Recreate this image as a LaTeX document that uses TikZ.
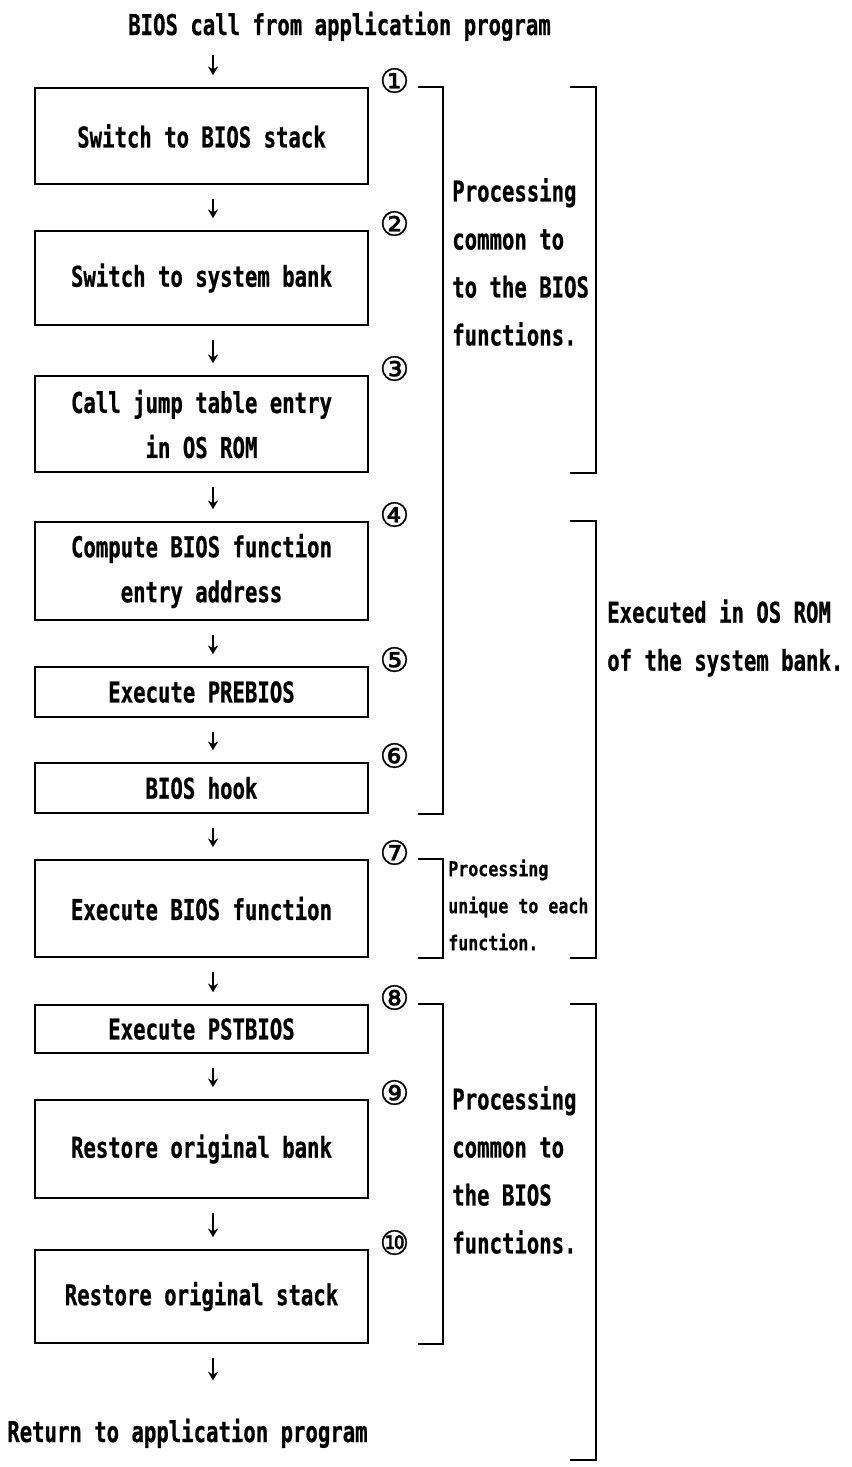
\documentclass[tikz,border=0pt]{standalone}
\usepackage{fontspec}
\usetikzlibrary{arrows.meta}
\newfontfamily\mainfnt[FakeStretch=0.72,FakeBold=0.6]{DejaVu Sans Mono Bold}
\newfontfamily\smallfnt[FakeStretch=0.81,FakeBold=0.4]{DejaVu Sans Mono Bold}
\newfontfamily\numfnt[FakeBold=0.8]{DejaVu Sans}
\begin{document}
\begin{tikzpicture}[x=0.75pt,y=-0.75pt,
  txt/.style={inner sep=0pt, font=\mainfnt\fontsize{21.5}{33.75}\selectfont},
  box/.style={draw, line width=2.2pt, minimum width=249.75pt, inner sep=0pt, align=center,
    font=\mainfnt\fontsize{21.5}{33.75}\selectfont},
  bxh/.style={minimum height=#1*0.75pt},
  lbl/.style={inner sep=0pt, align=left, anchor=west, font=\mainfnt\fontsize{21.5}{36}\selectfont},
  lblb/.style={inner sep=0pt, align=left, anchor=west, font=\mainfnt\fontsize{21.5}{36}\selectfont},
  lbls/.style={inner sep=0pt, align=left, anchor=west, font=\smallfnt\fontsize{15.4}{27.75}\selectfont},
  num/.style={inner sep=0pt, font=\numfnt\fontsize{25}{25}\selectfont},
  flow/.style={line width=1.5pt, -{Stealth[length=6.5pt,width=7.5pt]}, shorten <=10pt, shorten >=8.5pt},
  brk/.style={line width=1.5pt}]
\fill[white] (0,0) rectangle (852,1467);
\useasboundingbox (0,0) rectangle (852,1467);

\coordinate (ax) at (213,0);
\coordinate (xl1) at (418,0);
\coordinate (xl2) at (443,0);
\coordinate (xr1) at (570,0);
\coordinate (xr2) at (596,0);
\coordinate (fend) at (570,1460);

\node[txt, anchor=base west] (title) at (128,35) {BIOS call from application program};

\node[box,bxh=96] (b1) at (201.5,136) {Switch to BIOS stack};
\node[box,bxh=94] (b2) at (201.5,278) {Switch to system bank};
\node[box,bxh=96] (b3) at (201.5,424) {Call jump table entry\\in OS ROM};
\node[box,bxh=98] (b4) at (201.5,571) {Compute BIOS function\\entry address};
\node[box,bxh=50] (b5) at (201.5,692) {Execute PREBIOS};
\node[box,bxh=50] (b6) at (201.5,788) {BIOS hook};
\node[box,bxh=97] (b7) at (201.5,908.5) {Execute BIOS function};
\node[box,bxh=48] (b8) at (201.5,1029) {Execute PSTBIOS};
\node[box,bxh=98] (b9) at (201.5,1149) {Restore original bank};
\node[box,bxh=93] (b10) at (201.5,1296.5) {Restore original stack};

\node[txt, anchor=base west] (ret) at (7,1442) {Return to application program};

\draw[flow] (title.south -| ax) -- (b1.north -| ax);
\draw[flow] (b1.south -| ax) -- (b2.north -| ax);
\draw[flow] (b2.south -| ax) -- (b3.north -| ax);
\draw[flow] (b3.south -| ax) -- (b4.north -| ax);
\draw[flow] (b4.south -| ax) -- (b5.north -| ax);
\draw[flow] (b5.south -| ax) -- (b6.north -| ax);
\draw[flow] (b6.south -| ax) -- (b7.north -| ax);
\draw[flow] (b7.south -| ax) -- (b8.north -| ax);
\draw[flow] (b8.south -| ax) -- (b9.north -| ax);
\draw[flow] (b9.south -| ax) -- (b10.north -| ax);
\draw[flow, shorten >=28.5pt] (b10.south -| ax) -- (ret.north -| ax);

\node[num] (n1) at ([shift={(25,-6)}]b1.north east) {①};
\node[num] (n2) at ([shift={(25,-6)}]b2.north east) {②};
\node[num] (n3) at ([shift={(25,-6)}]b3.north east) {③};
\node[num] (n4) at ([shift={(25,-6)}]b4.north east) {④};
\node[num] (n5) at ([shift={(25,-6)}]b5.north east) {⑤};
\node[num] (n6) at ([shift={(25,-6)}]b6.north east) {⑥};
\node[num] (n7) at ([shift={(25,-6)}]b7.north east) {⑦};
\node[num] (n8) at ([shift={(25,-6)}]b8.north east) {⑧};
\node[num] (n9) at ([shift={(25,-6)}]b9.north east) {⑨};
\node[num] (n10) at ([shift={(25,-6)}]b10.north east) {⑩};

% brackets
\draw[brk] (b1.north -| xl1) -- (b1.north -| xl2) -- (b6.south -| xl2) -- (b6.south -| xl1);
\draw[brk] (b1.north -| xr1) -- (b1.north -| xr2) -- (b3.south -| xr2) -- (b3.south -| xr1);
\draw[brk] (b4.north -| xr1) -- (b4.north -| xr2) -- (b7.south -| xr2) -- (b7.south -| xr1);
\draw[brk] (b7.north -| xl1) -- (b7.north -| xl2) -- (b7.south -| xl2) -- (b7.south -| xl1);
\draw[brk] (b8.north -| xl1) -- (b8.north -| xl2) -- (b10.south -| xl2) -- (b10.south -| xl1);
\draw[brk] (b8.north -| xr1) -- (b8.north -| xr2) -- (fend -| xr2) -- (fend);

\node[lbl] (l1) at (452,262) {Processing\\common to\\to the BIOS\\functions.};
\node[lblb] (l2) at (607,638) {Executed in OS ROM\\of the system bank.};
\node[lbls] (l3) at (448,905) {Processing\\unique to each\\function.};
\node[lbl] (l4) at (452,1170) {Processing\\common to\\the BIOS\\functions.};
\end{tikzpicture}
\end{document}
